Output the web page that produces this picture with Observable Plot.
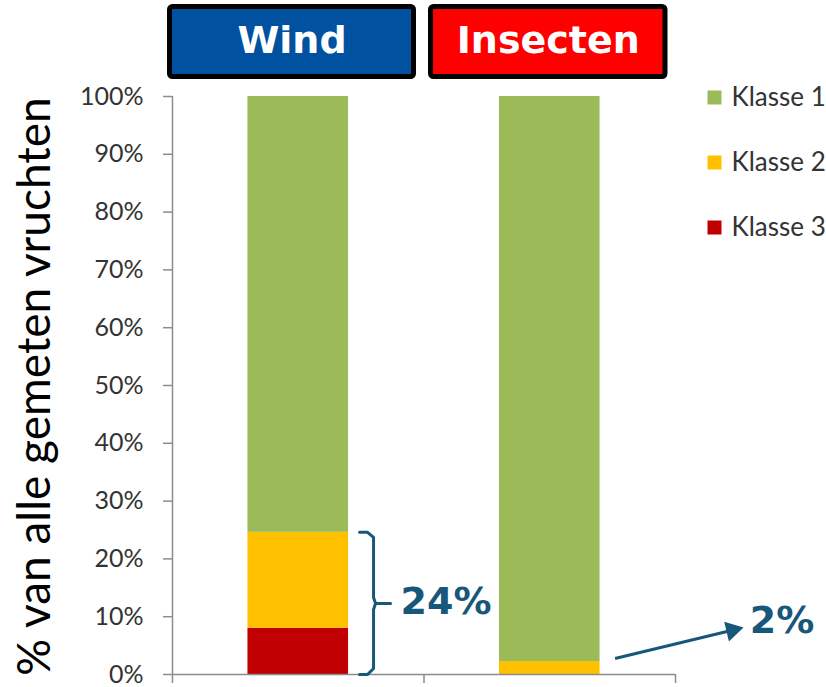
<!DOCTYPE html>
<html>
<head>
<meta charset="utf-8">
<script src="https://cdn.jsdelivr.net/npm/d3@7"></script>
<script src="https://cdn.jsdelivr.net/npm/@observablehq/plot@0.6"></script>
<style>
  html, body { margin: 0; padding: 0; background: #fff; }
  #chart svg { display: block; }
</style>
</head>
<body>
<div id="chart"></div>
<script>
// ---------- data ----------
const categories = ["Wind", "Insecten"];
const classes = ["Klasse 1", "Klasse 2", "Klasse 3"];
const klasse1 = [75.4, 97.75];
const klasse2 = [16.6, 2.25];
const klasse3 = [8.0, 0];
const yTicks = [0, 10, 20, 30, 40, 50, 60, 70, 80, 90, 100];
const callouts = ["24%", "2%"];
const yTitle = "% van alle gemeten vruchten";

// ---------- styles ----------
const classColors = ["#9bbb59", "#ffc000", "#c00000"];
const headerColors = ["#0052a0", "#ff0000"];
const annColor = "#17577a";
const axisColor = "#8c8c8c";

// ---------- layout ----------
const W = 826, H = 687, ML = 172, MR = 151, MT = 96, MB = 13;
const xUnit = (W - ML - MR) / 2;        // px per category step
const yUnit = (H - MT - MB) / 100;      // px per percent
const BAR_HALF = 0.2;                   // half bar width in category steps
const px = p => p / xUnit;              // px -> x units
const py = p => p / yUnit;              // px -> y units

// stacked rows (bottom to top: Klasse 3, Klasse 2, Klasse 1)
const series = {"Klasse 1": klasse1, "Klasse 2": klasse2, "Klasse 3": klasse3};
const rows = [];
categories.forEach((c, i) => {
  let base = 0;
  ["Klasse 3", "Klasse 2", "Klasse 1"].forEach(k => {
    const v = series[k][i];
    rows.push({category: c, klasse: k, x1: i + 0.5 - BAR_HALF, x2: i + 0.5 + BAR_HALF, y1: base, y2: base + v});
    base += v;
  });
});

// header boxes above each category
const headers = categories.map((c, i) => ({
  label: c, color: headerColors[i],
  x1: i - px(2.5) + px(9.5) * i, x2: i + 1 - px(10),
  y1: 100 + py(19.5), y2: 100 + py(89.5)
}));

// brace next to Wind bar covering Klasse 2 + Klasse 3
const windLow = klasse2[0] + klasse3[0];
const bx = 0.5 + BAR_HALF;
const brace = [
  [px(11), windLow], [px(19), windLow], [px(25), windLow - py(5)],
  [px(25), windLow / 2 + py(6)], [px(27), windLow / 2], [px(42), windLow / 2],
  [px(27), windLow / 2], [px(25), windLow / 2 - py(6)],
  [px(25), py(6)], [px(19), 0], [px(11), 0]
].map(([x, y]) => ({x: bx + x, y}));

// arrow from Insecten bar to "2%"
const insTop = klasse2[1] + klasse3[1];
const ix = 1.5 + BAR_HALF;
const arrowStart = {x: ix + px(15), y: insTop + py(3)};
const arrowTip = {x: ix + px(143.5), y: insTop + py(34)};
const ang = Math.atan2((arrowTip.y - arrowStart.y) * yUnit, (arrowTip.x - arrowStart.x) * xUnit);
const headR = 7.5;
const headLen = 2 * Math.sqrt(headR * headR * Math.PI / (3 * Math.sqrt(3)));
const arrowHead = {x: arrowTip.x - px(headLen * Math.cos(ang)), y: arrowTip.y - py(headLen * Math.sin(ang))};

const tickFont = "Lato, 'Open Sans', sans-serif";

const legendMarks = classes.flatMap((k, i) => [
  Plot.dot([k], {frameAnchor: "top-right", dx: 39, dy: 1 + i * 65, symbol: "square", r: 7.9, fill: classColors[i], stroke: null}),
  Plot.text([k], {frameAnchor: "top-right", dx: 56, dy: 1 + i * 65, text: d => d, textAnchor: "start", lineAnchor: "middle",
    fontSize: 26, fontFamily: tickFont, fill: "#333"})
]);

const chart = Plot.plot({
  width: W, height: H,
  marginLeft: ML, marginRight: MR, marginTop: MT, marginBottom: MB,
  x: {domain: [0, 2], axis: null},
  y: {domain: [0, 100], axis: null},
  color: {domain: classes, range: classColors},
  style: {fontFamily: tickFont, background: "#fff", overflow: "visible"},
  marks: [
    // axes
    Plot.axisY(yTicks, {tickSize: 9, tickPadding: 20, tickFormat: d => d + "%", fontSize: 25,
      fill: "#333", stroke: axisColor, strokeWidth: 1.5, label: null}),
    Plot.axisX([0, 1, 2], {tickSize: 9, tickFormat: () => "", stroke: axisColor, strokeWidth: 1.5, label: null}),
    Plot.ruleX([0], {stroke: axisColor, strokeWidth: 1.5}),
    // bars
    Plot.rect(rows, {x1: "x1", x2: "x2", y1: "y1", y2: "y2", fill: "klasse"}),
    Plot.ruleY([0], {stroke: axisColor, strokeWidth: 1.5}),
    // y title
    Plot.text([yTitle], {frameAnchor: "left", dx: -137, dy: 1, rotate: -90, text: d => d,
      textAnchor: "middle", lineAnchor: "middle",
      fontSize: 46, fontFamily: tickFont, fill: "#000"}),
    // header boxes
    Plot.rect(headers, {x1: "x1", x2: "x2", y1: "y1", y2: "y2", fill: "color", stroke: "#000", strokeWidth: 5, rx: 3}),
    Plot.text(headers, {x: d => (d.x1 + d.x2) / 2, y: d => (d.y1 + d.y2) / 2, text: "label",
      fill: "#fff", fontSize: 38, fontWeight: "bold", fontFamily: "'DejaVu Sans', sans-serif", dy: -1}),
    // legend
    ...legendMarks,
    // brace + 24%
    Plot.line(brace, {x: "x", y: "y", stroke: annColor, strokeWidth: 3, strokeLinejoin: "round", strokeLinecap: "round"}),
    Plot.text([callouts[0]], {x: bx + px(52), y: windLow / 2, dy: -2, text: d => d, textAnchor: "start",
      fill: annColor, fontSize: 38, fontWeight: "bold", fontFamily: "'DejaVu Sans', sans-serif"}),
    // arrow + 2%
    Plot.link([{a: arrowStart, b: arrowHead}], {x1: d => d.a.x, y1: d => d.a.y, x2: d => d.b.x, y2: d => d.b.y,
      stroke: annColor, strokeWidth: 3}),
    Plot.dot([arrowHead], {x: "x", y: "y", symbol: "triangle", r: headR, fill: annColor, stroke: null,
      rotate: 90 - ang * 180 / Math.PI}),
    Plot.text([callouts[1]], {x: ix + px(182), y: insTop + py(41), text: d => d,
      fill: annColor, fontSize: 38, fontWeight: "bold", fontFamily: "'DejaVu Sans', sans-serif"})
  ]
});
document.getElementById("chart").appendChild(chart);
</script>
</body>
</html>
